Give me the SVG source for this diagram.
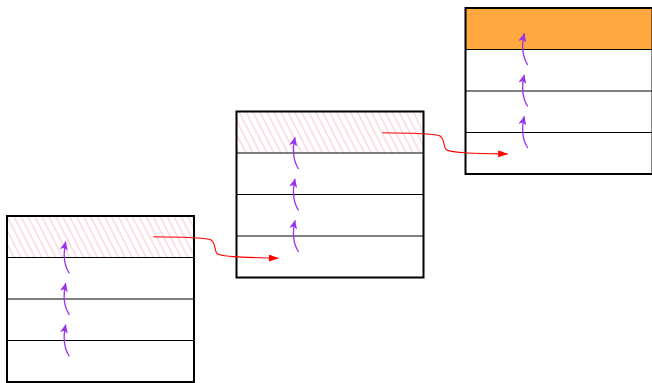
<svg xmlns="http://www.w3.org/2000/svg" width="652" height="383" viewBox="0 0 652 383">
<style>
.frame{fill:none;stroke:#000;stroke-width:2}
.row{stroke:#000;stroke-width:1}
.bg{fill:#fff}
.hatch{fill:url(#hatch)}
.head{fill:#ffa840}
.ptr{fill:none;stroke:#ff0000;stroke-width:1.1;marker-end:url(#redHead)}
.up{fill:none;stroke:#9933ee;stroke-width:1.3;marker-end:url(#purpleHead)}
</style>
<defs>
<pattern id="hatch" patternUnits="userSpaceOnUse" width="6.2" height="10" patternTransform="rotate(-27)">
<line x1="1" y1="-1" x2="1" y2="11" stroke="#f9c3cf" stroke-width="1"/>
</pattern>
<marker id="redHead" viewBox="0 0 10 7" refX="9.5" refY="3.5" markerWidth="10" markerHeight="7" markerUnits="userSpaceOnUse" orient="auto">
<path d="M0,0 L10,3.5 L0,7 z" fill="#ff0000"/>
</marker>
<marker id="purpleHead" viewBox="0 0 9 8" refX="8.5" refY="4" markerWidth="9" markerHeight="8" markerUnits="userSpaceOnUse" orient="auto">
<path d="M0,0 L9,4 L0,8 L2.2,4 z" fill="#9933ee"/>
</marker>
</defs>

<g id="node1">
<rect class="bg" x="7" y="216" width="187" height="166"/>
<rect class="hatch" x="7" y="216" width="187" height="41.5"/>
<line class="row" x1="7" y1="257.5" x2="194" y2="257.5"/>
<line class="row" x1="7" y1="299" x2="194" y2="299"/>
<line class="row" x1="7" y1="340.5" x2="194" y2="340.5"/>
<rect class="frame" x="7" y="216" width="187" height="166"/>
</g>

<g id="node2">
<rect class="bg" x="236.5" y="111.5" width="187" height="166"/>
<rect class="hatch" x="236.5" y="111.5" width="187" height="41.5"/>
<line class="row" x1="236.5" y1="153" x2="423.5" y2="153"/>
<line class="row" x1="236.5" y1="194.5" x2="423.5" y2="194.5"/>
<line class="row" x1="236.5" y1="236" x2="423.5" y2="236"/>
<rect class="frame" x="236.5" y="111.5" width="187" height="166"/>
</g>

<g id="node3">
<rect class="bg" x="465.5" y="8" width="187" height="166"/>
<rect class="head" x="465.5" y="8" width="187" height="41.5"/>
<line class="row" x1="465.5" y1="49.5" x2="652.5" y2="49.5"/>
<line class="row" x1="465.5" y1="91" x2="652.5" y2="91"/>
<line class="row" x1="465.5" y1="132.5" x2="652.5" y2="132.5"/>
<rect class="frame" x="465.5" y="8" width="187" height="166"/>
</g>

<g id="connectors">
<path class="ptr" d="M153.3,236.7 C185,237 203,237.5 210,239.5 C216,241.5 214,250 217,253.5 C221,257 245,257.3 278.3,258.3"/>
<path class="ptr" d="M382.3,132.7 C414,133 432,133.5 439,135.5 C445,137.5 443,146 446,149.5 C450,153 474,153.3 507.7,154"/>
<g transform="translate(0,0)">
<path class="up" d="M69.3,273.3 C64.5,266 62.5,256 65.7,241.7"/>
<path class="up" d="M69.3,314.8 C64.5,307.5 62.5,297.5 65.7,283.2"/>
<path class="up" d="M69.3,356.3 C64.5,349 62.5,339 65.7,324.7"/>
</g>
<g transform="translate(229.3,-104.3)">
<path class="up" d="M69.3,273.3 C64.5,266 62.5,256 65.7,241.7"/>
<path class="up" d="M69.3,314.8 C64.5,307.5 62.5,297.5 65.7,283.2"/>
<path class="up" d="M69.3,356.3 C64.5,349 62.5,339 65.7,324.7"/>
</g>
<g transform="translate(458.5,-208.3)">
<path class="up" d="M69.3,273.3 C64.5,266 62.5,256 65.7,241.7"/>
<path class="up" d="M69.3,314.8 C64.5,307.5 62.5,297.5 65.7,283.2"/>
<path class="up" d="M69.3,356.3 C64.5,349 62.5,339 65.7,324.7"/>
</g>
</g>
</svg>
